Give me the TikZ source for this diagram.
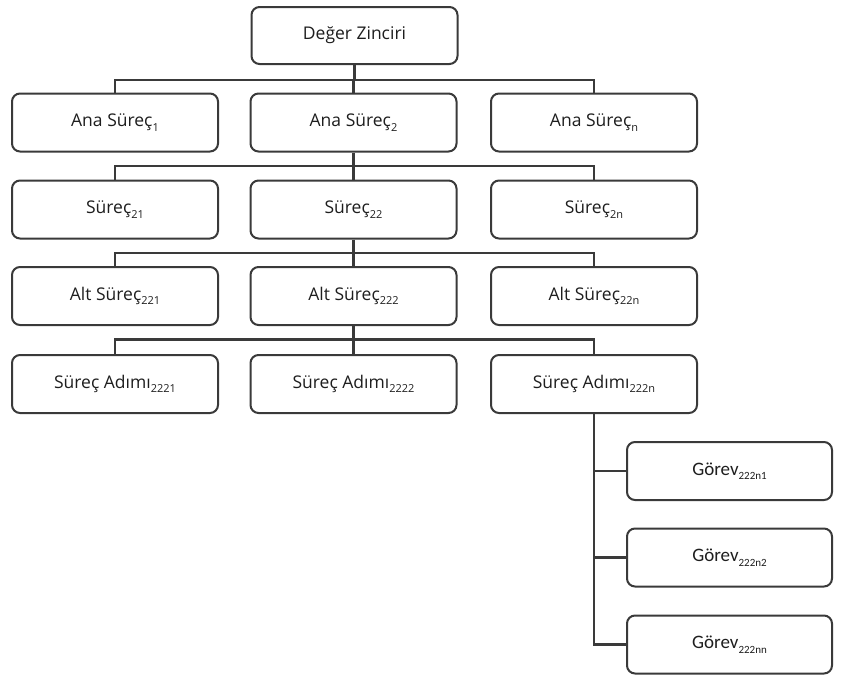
\documentclass[tikz,border=0pt]{standalone}
\usepackage{fontspec}
\setmainfont{Open Sans}
\newfontfamily\gorevfont{Carlito}
\definecolor{linegray}{HTML}{3A3A3A}
\definecolor{textgray}{HTML}{1E1E1E}
% lowered subscript index in the text font
\newcommand\subidx[1]{\raisebox{-0.5ex}{\fontsize{11}{11}\selectfont #1}}
\begin{document}
\begin{tikzpicture}[x=1pt,y=-1pt,
  box/.style={draw=linegray, line width=2pt, rounded corners=8pt, fill=white,
    minimum width=206pt, minimum height=58pt, inner sep=0pt,
    text=textgray, font=\fontsize{17.5}{20}\selectfont},
  gbox/.style={box, minimum width=205pt, font=\gorevfont\fontsize{19}{22}\selectfont},
  conn/.style={draw=linegray, line width=2.2pt}]
\useasboundingbox (0,0) rectangle (850,688);

% value chain root
\node[box, minimum height=57pt] (dz) at (354.5,35.5) {Değer Zinciri};

% main processes
\node[box] (a1) at (115,122.5) {Ana Süreç\subidx{1}};
\node[box] (a2) at (353.5,122.5) {Ana Süreç\subidx{2}};
\node[box] (a3) at (594,122.5) {Ana Süreç\subidx{n}};

% processes
\node[box] (p1) at (115,209.5) {Süreç\subidx{21}};
\node[box] (p2) at (353.5,209.5) {Süreç\subidx{22}};
\node[box] (p3) at (594,209.5) {Süreç\subidx{2n}};

% sub-processes
\node[box] (t1) at (115,296) {Alt Süreç\subidx{221}};
\node[box] (t2) at (353.5,296) {Alt Süreç\subidx{222}};
\node[box] (t3) at (594,296) {Alt Süreç\subidx{22n}};

% process steps
\node[box] (s1) at (115,384) {Süreç Adımı\subidx{2221}};
\node[box] (s2) at (353.5,384) {Süreç Adımı\subidx{2222}};
\node[box] (s3) at (594,384) {Süreç Adımı\subidx{222n}};

% tasks
\node[gbox] (g1) at (729.5,471) {Görev\subidx{222n1}};
\node[gbox] (g2) at (729.5,557.5) {Görev\subidx{222n2}};
\node[gbox] (g3) at (729.5,644.5) {Görev\subidx{222nn}};

% horizontal bus levels
\coordinate (b0) at (0,80);
\coordinate (b1) at (0,166);
\coordinate (b2) at (0,253);
\coordinate (b3) at (0,339.5);

% root -> main processes
\draw[conn] (dz.south) -- (dz |- b0);
\draw[conn] (a1.north) -- (a1 |- b0) -- (a3 |- b0) -- (a3.north);
\draw[conn] (a2 |- b0) -- (a2.north);

% main process 2 -> processes
\draw[conn] (a2.south) -- (a2 |- b1);
\draw[conn] (p1.north) -- (p1 |- b1) -- (p3 |- b1) -- (p3.north);
\draw[conn] (p2 |- b1) -- (p2.north);

% process 22 -> sub-processes
\draw[conn] (p2.south) -- (p2 |- b2);
\draw[conn] (t1.north) -- (t1 |- b2) -- (t3 |- b2) -- (t3.north);
\draw[conn] (t2 |- b2) -- (t2.north);

% sub-process 222 -> process steps
\draw[conn] (t2.south) -- (t2 |- b3);
\draw[conn] (s1.north) -- (s1 |- b3) -- (s3 |- b3) -- (s3.north);
\draw[conn] (s2 |- b3) -- (s2.north);

% process step 222n -> tasks
\draw[conn] (s3.south) -- (s3.south |- g3.west) -- (g3.west);
\draw[conn] (s3.south |- g1.west) -- (g1.west);
\draw[conn] (s3.south |- g2.west) -- (g2.west);
\end{tikzpicture}
\end{document}
